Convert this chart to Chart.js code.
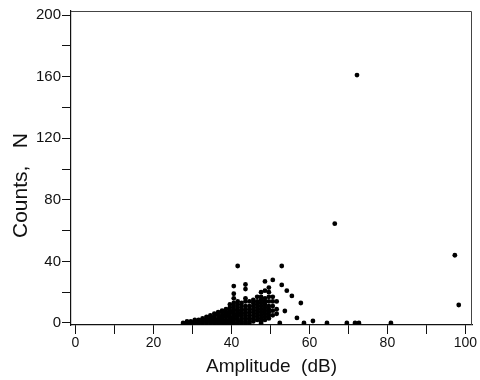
<!DOCTYPE html>
<html lang="en">
<head>
    <meta charset="UTF-8">
    <title>Counts vs Amplitude</title>
    <script src="https://cdn.jsdelivr.net/npm/chart.js"></script>
    <style>
        body { margin: 0; background: #ffffff; }
        #scatter { display: block; }
    </style>
</head>
<body>
    <canvas id="scatter" width="480" height="380"></canvas>

    <script>
        // dense cluster: one column of counts per amplitude step
        const columnAmplitude = [27.6, 28.6, 29.6, 30.6, 31.6, 32.6, 33.6, 34.6, 35.6, 36.6, 37.6, 38.6, 39.6,
                                 40.6, 41.6, 42.6, 43.6, 44.6, 45.6, 46.6, 47.6, 48.6, 49.6, 50.6, 51.6];
        const columnCounts = [
            [0],
            [0, 1],
            [0, 1],
            [0, 1, 2],
            [0, 1, 2],
            [0, 1, 2, 3],
            [0, 1, 2, 3, 4],
            [0, 1, 2, 3, 4, 5],
            [0, 1, 2, 3, 4, 6],
            [0, 1, 2, 3, 5, 6, 7],
            [0, 1, 2, 3, 4, 5, 7, 8],
            [0, 1, 2, 4, 5, 6, 7, 9],
            [0, 1, 2, 3, 4, 6, 7, 8, 10, 12],
            [0, 2, 3, 4, 5, 6, 8, 9, 11, 13, 16, 19, 24],
            [0, 1, 2, 4, 5, 6, 7, 8, 10, 12, 14, 37],
            [0, 2, 3, 5, 6, 8, 9, 11, 13],
            [0, 1, 3, 4, 6, 7, 9, 11, 14, 16, 22, 25],
            [0, 2, 3, 5, 7, 9, 11, 14],
            [1, 3, 5, 7, 9, 11, 13, 15],
            [2, 4, 6, 8, 10, 12, 14, 17],
            [0, 1, 3, 5, 7, 9, 11, 13, 15, 17, 20],
            [2, 4, 6, 8, 10, 12, 14, 16, 21, 27],
            [3, 5, 7, 9, 11, 14, 17, 20, 23],
            [5, 8, 11, 14, 17, 28],
            [6, 9, 14]
        ];

        // scattered points outside the cluster
        const loneAmplitude = [52.4, 52.9, 52.9, 54.2, 55.5, 57.8, 53.7, 56.8, 58.6, 60.9, 64.5, 69.6, 71.7, 72.7, 80.9, 66.5, 72.2, 97.3, 98.3];
        const loneCounts    = [0,    37,   24.7, 21,   17.6, 13,   7.8,  3.3,  0,    1.3,  0,    0,    0,    0,    0,    64.5, 161,  44,   11.7];

        const xTicks = [0, 20, 40, 60, 80, 100];
        const yTicks = [0, 40, 80, 120, 160, 200];

        const points = [];
        columnAmplitude.forEach((a, i) => {
            columnCounts[i].forEach(c => points.push({ x: a, y: c }));
        });
        loneAmplitude.forEach((a, i) => points.push({ x: a, y: loneCounts[i] }));

        // thin frame on the top and right of the plot
        const frame = {
            id: 'frame',
            afterDraw(chart) {
                const { ctx, chartArea: a } = chart;
                ctx.save();
                ctx.strokeStyle = '#444';
                ctx.lineWidth = 1;
                ctx.beginPath();
                ctx.moveTo(a.left, a.top + 0.5);
                ctx.lineTo(a.right - 0.5, a.top + 0.5);
                ctx.lineTo(a.right - 0.5, a.bottom);
                ctx.stroke();
                ctx.restore();
            }
        };

        const axisColor = '#111';

        new Chart(document.getElementById('scatter'), {
            type: 'scatter',
            data: {
                datasets: [{
                    data: points,
                    backgroundColor: '#000',
                    borderColor: '#000',
                    pointRadius: 2.4,
                    borderWidth: 0
                }]
            },
            options: {
                responsive: false,
                animation: false,
                layout: { padding: { top: 11, right: 8, left: 0, bottom: 0 } },
                plugins: {
                    legend: { display: false },
                    tooltip: { enabled: false }
                },
                scales: {
                    x: {
                        type: 'linear',
                        min: -1.15,
                        max: 101.7,
                        afterFit: s => { s.height = 55; },
                        border: { display: true, color: axisColor, width: 1.2 },
                        grid: { drawOnChartArea: false, drawTicks: true, tickLength: 9, color: axisColor, lineWidth: 1 },
                        ticks: {
                            stepSize: 10,
                            includeBounds: false,
                            autoSkip: false,
                            maxRotation: 0,
                            padding: 1,
                            color: '#111',
                            font: { family: 'Liberation Sans', size: 14 },
                            callback: v => xTicks.includes(v) ? String(v) : ''
                        },
                        title: {
                            display: true,
                            text: 'Amplitude  (dB)',
                            color: '#111',
                            font: { family: 'Liberation Sans', size: 19 },
                            padding: { top: 0, bottom: 2 }
                        }
                    },
                    y: {
                        type: 'linear',
                        min: -1.3,
                        max: 202.6,
                        afterFit: s => { s.width = 71; },
                        border: { display: true, color: axisColor, width: 1.2 },
                        grid: { drawOnChartArea: false, drawTicks: true, tickLength: 9, color: axisColor, lineWidth: 1 },
                        ticks: {
                            stepSize: 20,
                            includeBounds: false,
                            autoSkip: false,
                            padding: 1,
                            color: '#111',
                            font: { family: 'Liberation Sans', size: 15 },
                            callback: v => yTicks.includes(v) ? String(v) : ''
                        },
                        title: {
                            display: true,
                            text: 'Counts,   N      ',
                            color: '#111',
                            font: { family: 'Liberation Sans', size: 21 },
                            padding: { top: 9, bottom: 0 }
                        }
                    }
                }
            },
            plugins: [frame]
        });
    </script>
</body>
</html>
